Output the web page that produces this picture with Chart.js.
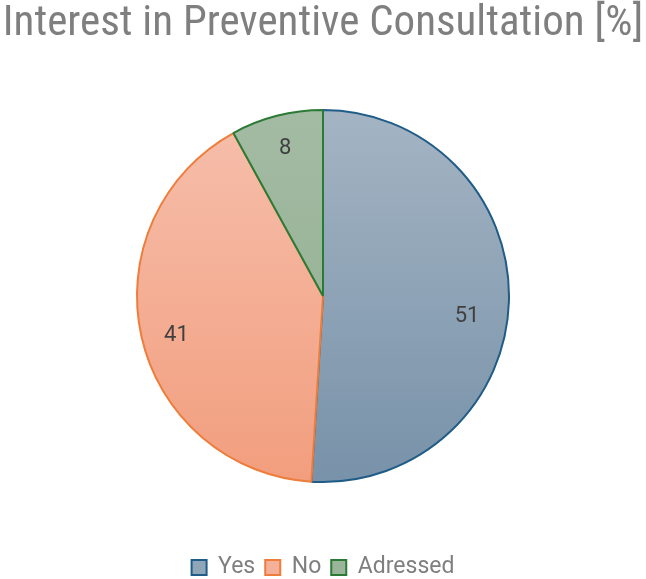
<!DOCTYPE html>
<html>
<head>
<meta charset="utf-8">
<script src="https://cdn.jsdelivr.net/npm/chart.js@4"></script>
<style>
  html, body { margin: 0; padding: 0; background: #fff; overflow: hidden; }
  #wrap { width: 646px; height: 589px; }
</style>
</head>
<body>
<div id="wrap"><canvas id="pieChart"></canvas></div>
<script>
// 数据
const labels = ['Yes', 'No', 'Adressed'];
const values = [51, 41, 8];

// 颜色（渐变上/下、边框、图例）
const topColors = ['#a4b4c3', '#f6bfac', '#a3bba3'];
const bottomColors = ['#7892a9', '#f29e7e', '#90ae90'];
const borderColors = ['#1f5c87', '#ee7d3b', '#2b7a36'];
const legendFills = ['#8fa5b8', '#f4b098', '#9ab59a'];

// 数值标签的微调偏移
const labelDx = [-1, -5, 0];
const labelDy = [16, 8, 0];

// 在扇区上写数值
const valueLabels = {
    id: 'valueLabels',
    afterDatasetsDraw(chart) {
        const ctx = chart.ctx;
        const meta = chart.getDatasetMeta(0);
        ctx.save();
        ctx.font = '22px Roboto, "Liberation Sans", sans-serif';
        ctx.fillStyle = '#404040';
        ctx.textAlign = 'center';
        ctx.textBaseline = 'middle';
        meta.data.forEach((arc, i) => {
            const mid = (arc.startAngle + arc.endAngle) / 2;
            const r = arc.outerRadius * (i === 2 ? 0.82 : 0.78);
            ctx.fillText(String(values[i]),
                arc.x + Math.cos(mid) * r + labelDx[i],
                arc.y + Math.sin(mid) * r + labelDy[i]);
        });
        ctx.restore();
    }
};

const ctx = document.getElementById('pieChart').getContext('2d');
const chart = new Chart(ctx, {
    type: 'pie',
    data: {
        labels: labels,
        datasets: [{
            data: values,
            backgroundColor: function(context) {
                const area = context.chart.chartArea;
                if (!area) return topColors[context.dataIndex];
                const g = context.chart.ctx.createLinearGradient(0, 109, 0, 481);
                g.addColorStop(0, topColors[context.dataIndex]);
                g.addColorStop(1, bottomColors[context.dataIndex]);
                return g;
            },
            borderColor: borderColors,
            borderWidth: 2,
            radius: 186
        }]
    },
    options: {
        responsive: true,
        maintainAspectRatio: false,
        animation: false,
        layout: { padding: 0 },
        plugins: {
            title: {
                display: true,
                text: 'Interest in Preventive Consultation [%]',
                color: '#7f7f7f',
                font: { family: '"Liberation Sans Narrow", "Roboto Condensed", sans-serif', size: 43, weight: 'normal', lineHeight: 1.0 },
                padding: { top: 3, bottom: 0 }
            },
            legend: {
                position: 'bottom',
                labels: {
                    color: '#7f7f7f',
                    font: { family: 'Roboto, sans-serif', size: 23 },
                    boxWidth: 15,
                    boxHeight: 15,
                    padding: 10,
                    generateLabels: function(chart) {
                        return labels.map((l, i) => ({
                            text: l,
                            fillStyle: legendFills[i],
                            strokeStyle: borderColors[i],
                            lineWidth: 2,
                            fontColor: '#7f7f7f',
                            index: i,
                            hidden: false
                        }));
                    }
                }
            },
            tooltip: { enabled: false }
        }
    },
    plugins: [valueLabels]
});
</script>
</body>
</html>
